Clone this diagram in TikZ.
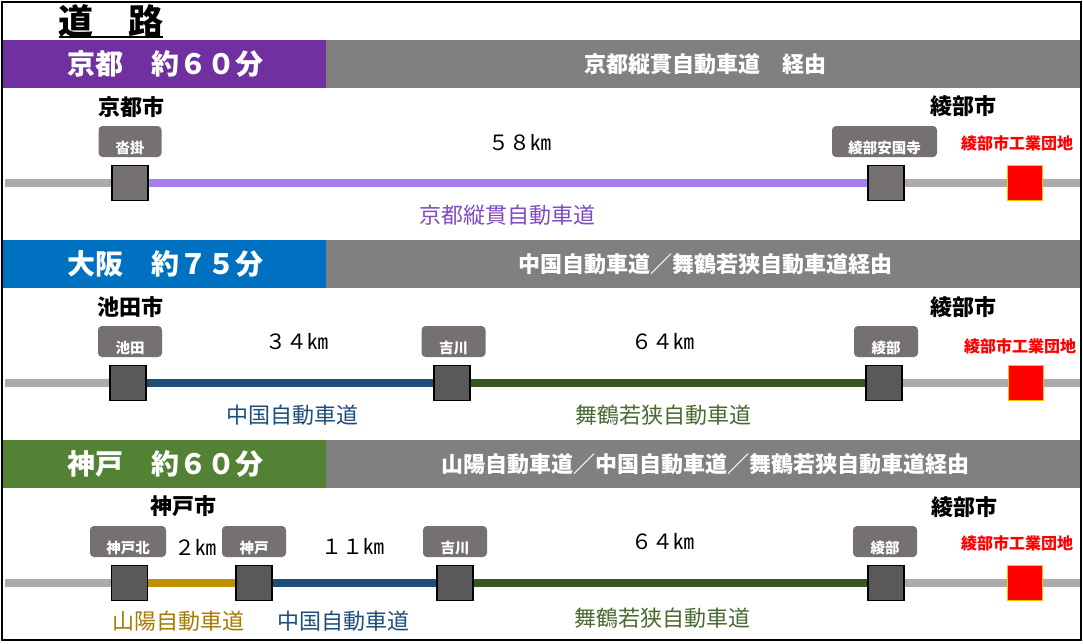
\documentclass[tikz,border=0pt]{standalone}
\usepackage{fontspec}
\setmainfont{Noto Sans CJK JP}
\definecolor{bandpurple}{HTML}{7030A0}
\definecolor{bandblue}{HTML}{0070C0}
\definecolor{bandgreen}{HTML}{548235}
\definecolor{bandgray}{HTML}{808080}
\definecolor{lboxgray}{HTML}{767171}
\definecolor{sqdark}{HTML}{595959}
\definecolor{roadgray}{HTML}{AEAAAA}
\definecolor{roadpurple}{HTML}{A77FEF}
\definecolor{txtpurple}{HTML}{7F4CBF}
\definecolor{roadblue}{HTML}{1F4E79}
\definecolor{roadgreen}{HTML}{385723}
\definecolor{txtgreen}{HTML}{4A6A32}
\definecolor{roadgold}{HTML}{BF9000}
\definecolor{txtgold}{HTML}{A67C00}
\definecolor{borderorange}{HTML}{FFC000}
\tikzset{
  bandtitle/.style={text=white, font=\bfseries\fontsize{28}{28}\selectfont, inner sep=0pt},
  bandroute/.style={text=white, font=\bfseries\fontsize{22}{22}\selectfont, inner sep=0pt},
  city/.style={font=\bfseries\fontsize{22}{22}\selectfont, inner sep=0pt},
  estate/.style={text=red, font=\bfseries\fontsize{16}{16}\selectfont, inner sep=0pt},
  dist/.style={font=\fontsize{21}{21}\selectfont, inner sep=0pt},
  roadname/.style={font=\fontsize{22}{22}\selectfont, inner sep=0pt},
  lbl/.style={fill=lboxgray, rounded corners=4pt, minimum height=31pt, inner sep=0pt,
    text=white, font=\bfseries\fontsize{14.5}{14.5}\selectfont, text height=23pt, text depth=0pt},
  sqbase/.style={draw=black, line width=1.8pt, minimum width=36pt, minimum height=35pt, inner sep=0pt},
  sqA/.style={sqbase, fill=lboxgray},
  sqB/.style={sqbase, fill=sqdark},
  dest/.style={draw=borderorange, line width=1.8pt, fill=red, minimum width=35pt, minimum height=35pt, inner sep=0pt},
  road/.style={line width=8.5pt},
}
\begin{document}
\begin{tikzpicture}[x=1pt,y=-1pt]
\useasboundingbox (0,0) rectangle (1083,643);
\fill[white] (0,0) rectangle (1083,643);

% title
\node[font=\bfseries\fontsize{35}{35}\selectfont, inner sep=0pt] (title) at (111,21) {道　路};
\draw[line width=2pt] (59,37) -- (163,37);

% bands
\fill[bandpurple] (3,40) rectangle (326,88);
\fill[bandgray] (326,40) rectangle (1081,88);
\node[bandtitle] (t1) at (165,64) {京都　約６０分};
\node[bandroute] (r1) at (705,64) {京都縦貫自動車道　経由};

\fill[bandblue] (3,240) rectangle (326,288);
\fill[bandgray] (326,240) rectangle (1081,288);
\node[bandtitle] (t2) at (165,264) {大阪　約７５分};
\node[bandroute] (r2) at (705,264) {中国自動車道／舞鶴若狭自動車道経由};

\fill[bandgreen] (3,440) rectangle (326,488);
\fill[bandgray] (326,440) rectangle (1081,488);
\node[bandtitle] (t3) at (165,464) {神戸　約６０分};
\node[bandroute] (r3) at (705,464) {山陽自動車道／中国自動車道／舞鶴若狭自動車道経由};

% ---------- row 1 ----------
\node[sqA] (s11) at (130,183) {};
\node[sqA] (s12) at (886,183) {};
\node[dest] (d1) at (1025,183) {};
\coordinate (a1) at (5,183);
\coordinate (z1) at (1081,183);
\draw[road, roadgray] (a1) -- (s11);
\draw[road, roadpurple] (s11) -- (s12);
\draw[road, roadgray] (s12) -- (d1);
\draw[road, roadgray] (d1) -- (z1);
\node[lbl, minimum width=63pt] (b11) at (130,141.5) {沓掛};
\node[lbl, minimum width=105pt] (b12) at (884.5,141.5) {綾部安国寺};
\node[city] (c11) at (131,107) {京都市};
\node[city] (c12) at (963,106) {綾部市};
\node[estate] (e1) at (1017,143) {綾部市工業団地};
\node[dist] (k11) at (520,143) {５８㎞};
\node[roadname, text=txtpurple] (n11) at (507,215) {京都縦貫自動車道};

% ---------- row 2 ----------
\node[sqB] (s21) at (128,383) {};
\node[sqB] (s22) at (452,383) {};
\node[sqB] (s23) at (884,383) {};
\node[dest] (d2) at (1026,383) {};
\coordinate (a2) at (5,383);
\coordinate (z2) at (1081,383);
\draw[road, roadgray] (a2) -- (s21);
\draw[road, roadblue] (s21) -- (s22);
\draw[road, roadgreen] (s22) -- (s23);
\draw[road, roadgray] (s23) -- (d2);
\draw[road, roadgray] (d2) -- (z2);
\node[lbl, minimum width=64pt] (b21) at (130,341.5) {池田};
\node[lbl, minimum width=64pt] (b22) at (453.5,341.5) {吉川};
\node[lbl, minimum width=64pt] (b23) at (886,341.5) {綾部};
\node[city] (c21) at (130,307) {池田市};
\node[city] (c22) at (963,307) {綾部市};
\node[estate] (e2) at (1020,346) {綾部市工業団地};
\node[dist] (k21) at (297,342) {３４㎞};
\node[dist] (k22) at (663,342) {６４㎞};
\node[roadname, text=roadblue] (n21) at (292,415) {中国自動車道};
\node[roadname, text=txtgreen] (n22) at (663,415) {舞鶴若狭自動車道};

% ---------- row 3 ----------
\node[sqB] (s31) at (129.5,583) {};
\node[sqB] (s32) at (254,583) {};
\node[sqB] (s33) at (455,583) {};
\node[sqB] (s34) at (886,583) {};
\node[dest] (d3) at (1025,583) {};
\coordinate (a3) at (5,583);
\coordinate (z3) at (1081,583);
\draw[road, roadgray] (a3) -- (s31);
\draw[road, roadgold] (s31) -- (s32);
\draw[road, roadblue] (s32) -- (s33);
\draw[road, roadgreen] (s33) -- (s34);
\draw[road, roadgray] (s34) -- (d3);
\draw[road, roadgray] (d3) -- (z3);
\node[lbl, minimum width=76pt] (b31) at (128,541.5) {神戸北};
\node[lbl, minimum width=64pt] (b32) at (254,541.5) {神戸};
\node[lbl, minimum width=64pt] (b33) at (455,541.5) {吉川};
\node[lbl, minimum width=64pt] (b34) at (885,541.5) {綾部};
\node[city] (c31) at (183,506) {神戸市};
\node[city] (c32) at (964,507) {綾部市};
\node[estate] (e3) at (1017,543) {綾部市工業団地};
\node[dist] (k31) at (195,547) {２㎞};
\node[dist] (k32) at (353,546) {１１㎞};
\node[dist] (k33) at (663,542) {６４㎞};
\node[roadname, text=txtgold] (n31) at (178,621) {山陽自動車道};
\node[roadname, text=roadblue] (n32) at (343,621) {中国自動車道};
\node[roadname, text=txtgreen] (n33) at (662,618) {舞鶴若狭自動車道};

% outer border
\draw[line width=2pt] (2,2) rectangle (1081,640);
\end{tikzpicture}
\end{document}
